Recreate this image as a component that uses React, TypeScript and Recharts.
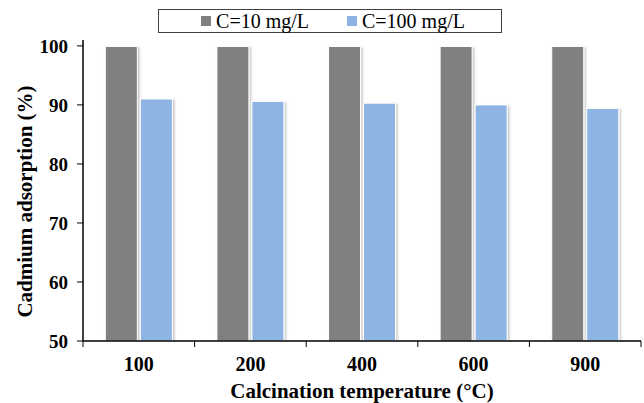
import React from "react";
import {
  BarChart,
  Bar,
  XAxis,
  YAxis,
  Legend,
} from "recharts";

// Calcination temperatures (°C)
const temperatures = ["100", "200", "400", "600", "900"];
// Cadmium adsorption (%) for each initial concentration
const lowConc = [99.9, 99.9, 99.9, 99.9, 99.9];
const highConc = [91.0, 90.6, 90.3, 90.0, 89.4];
const yTicks = [50, 60, 70, 80, 90, 100];

const SERIES = [
  { key: "c10", name: "C=10 mg/L", color: "#808080" },
  { key: "c100", name: "C=100 mg/L", color: "#8EB4E3" },
];

const data = temperatures.map((t, i) => ({
  temp: t,
  c10: lowConc[i],
  c100: highConc[i],
}));

const FONT = "'Liberation Serif', 'Times New Roman', serif";

const LegendBox = () => (
  <div style={{ height: 31 }}>
    <div
      style={{
        height: 22,
        border: "1px solid #404040",
        display: "flex",
        justifyContent: "center",
        alignItems: "center",
        gap: 38,
        paddingLeft: 6,
        fontFamily: FONT,
        fontSize: 20,
        lineHeight: "22px",
        color: "#000",
      }}
    >
      {SERIES.map((s) => (
        <span key={s.key} style={{ display: "flex", alignItems: "center" }}>
          <span
            style={{
              display: "inline-block",
              width: 10,
              height: 10,
              background: s.color,
              marginRight: 5,
            }}
          />
          {s.name}
        </span>
      ))}
    </div>
  </div>
);

// x tick: label at the band centre, tick marks on the band edges (Excel style)
const XTick = (props: any) => {
  const { x, y, payload, index } = props;
  const half = 558 / temperatures.length / 2;
  return (
    <g>
      <line x1={x - half} x2={x - half} y1={y - 8} y2={y - 2} stroke="#000" />
      {index === temperatures.length - 1 && (
        <line x1={x + half} x2={x + half} y1={y - 8} y2={y - 2} stroke="#000" />
      )}
      <text
        x={x}
        y={y + 22}
        textAnchor="middle"
        fontFamily={FONT}
        fontWeight="bold"
        fontSize={20}
        fill="#000"
      >
        {payload.value}
      </text>
    </g>
  );
};

const YLabel = (props: any) => {
  const { viewBox } = props;
  const cx = viewBox.x + 25;
  const cy = viewBox.y + viewBox.height / 2 + 11;
  return (
    <text
      x={cx}
      y={cy}
      transform={`rotate(-90, ${cx}, ${cy})`}
      textAnchor="middle"
      dominantBaseline="central"
      fontFamily={FONT}
      fontWeight="bold"
      fontSize={21}
      fill="#000"
    >
      Cadmium adsorption (%)
    </text>
  );
};

const App: React.FC = () => {
  return (
    <div style={{ position: "absolute", left: 0, top: 0, background: "#fff" }}>
      <BarChart
        width={644}
        height={403}
        data={data}
        margin={{ top: 9, right: 3, left: 0, bottom: 0 }}
        barCategoryGap="20%"
        barGap={3}
      >
        <defs>
          <filter id="barShadow" x="-20%" y="-5%" width="150%" height="115%">
            <feDropShadow dx="1.5" dy="1" stdDeviation="1" floodColor="#000" floodOpacity="0.25" />
          </filter>
        </defs>
        <Legend
          verticalAlign="top"
          content={<LegendBox />}
          wrapperStyle={{ top: 9, left: 158, width: 344, height: 31 }}
        />
        <XAxis
          dataKey="temp"
          height={62}
          axisLine={{ stroke: "#000", strokeWidth: 1.5 }}
          tickLine={false}
          tick={<XTick />}
          interval={0}
          label={{
            value: "Calcination temperature (°C)",
            position: "insideBottom",
            offset: 5,
            style: { fontFamily: FONT, fontWeight: "bold", fontSize: 21, fill: "#000" },
          }}
        />
        <XAxis
          xAxisId="top"
          orientation="top"
          dataKey="temp"
          height={0}
          tick={false}
          tickLine={false}
          axisLine={{ stroke: "#000", strokeWidth: 1.5 }}
        />
        <YAxis
          width={83}
          domain={[50, 101]}
          ticks={yTicks}
          interval={0}
          allowDataOverflow
          axisLine={{ stroke: "#000", strokeWidth: 1.5 }}
          tickLine={{ stroke: "#000" }}
          tickSize={6}
          tickMargin={9}
          tick={{ fontFamily: FONT, fontWeight: "bold", fontSize: 19, fill: "#000" }}
          label={<YLabel />}
        />
        <YAxis
          yAxisId="right"
          orientation="right"
          width={0}
          tick={false}
          tickLine={false}
          axisLine={{ stroke: "#000", strokeWidth: 1.5 }}
        />
        {SERIES.map((s) => (
          <Bar
            key={s.key}
            dataKey={s.key}
            name={s.name}
            fill={s.color}
            stroke="#ffffff"
            strokeWidth={1}
            filter="url(#barShadow)"
            isAnimationActive={false}
          />
        ))}
      </BarChart>
    </div>
  );
};

export default App;
